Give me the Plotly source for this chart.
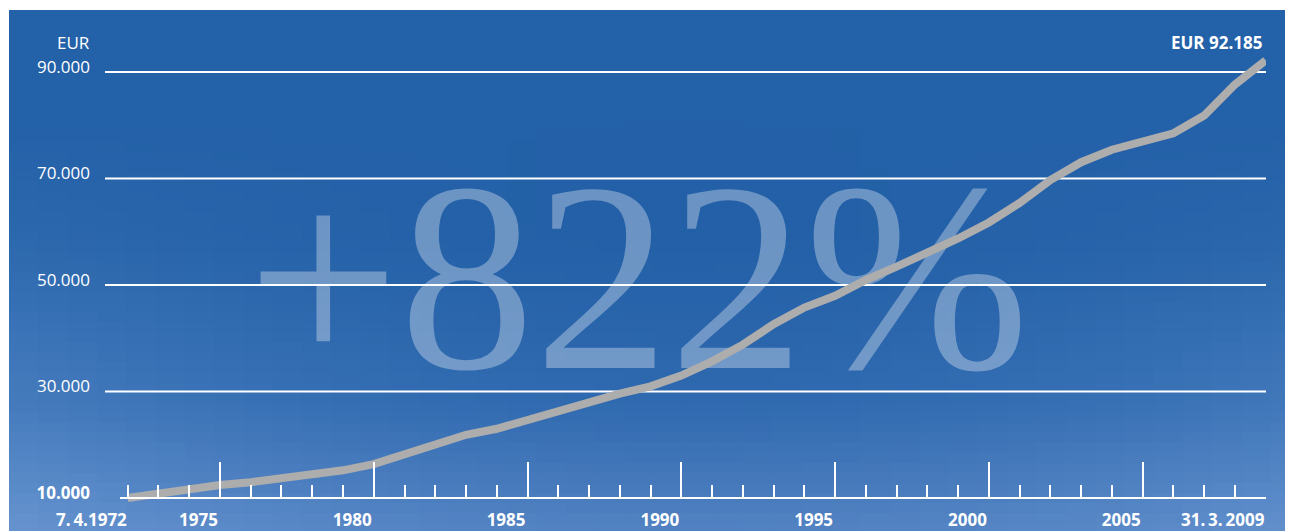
import plotly.graph_objects as go

# ---------------- data ----------------
years = list(range(1972, 2010))
values = [
    10000, 10850, 11650, 12440, 12970, 13720, 14410, 15200, 16350, 18100,
    20140, 21870, 23000, 24700, 26470, 28000, 29590, 30970, 33000, 35670,
    38790, 42640, 45770, 47970, 50940, 53440, 55950, 58730, 61740, 65400,
    69720, 73060, 75410, 76820, 78490, 81830, 87650, 92185,
]
x_tick_years = [1975, 1980, 1985, 1990, 1995, 2000, 2005]
x_tick_labels = ["1975", "1980", "1985", "1990", "1995", "2000", "2005"]
start_year, start_label = 1972, "7.\u20094.1972"
end_year, end_label = 2009, "31.\u20093.\u20092009"
y_grid_values = [10000, 30000, 50000, 70000, 90000]
y_tick_labels = ["<b>10.000</b>", "30.000", "50.000", "70.000", "90.000"]
unit_label = "EUR"
final_label = "<b>EUR 92.185</b>"
headline = "+822%"

# ---------------- geometry / style ----------------
OFF = 8                      # page margin around the figure
W, H = 1285, 523
L, R, T, B = 112, 27, 22, 21
PW, PH = W - L - R, H - T - B
X_RANGE = [1971.75, 2009.01]
Y_RANGE = [7746, 97887]
FONT = "Open Sans"


def px_to_paper_x(sx):
    return (sx - OFF - L) / PW


def px_to_paper_y(sy):
    return (H - B - (sy - OFF)) / PH


def lerp(a, b, t):
    return a + (b - a) * t


# background: dark blue at the top, lighter towards the bottom and the side edges
v_stops = [(10, (35, 97, 168)), (240, (35, 96, 167)), (400, (47, 105, 175)), (531, (82, 130, 194))]


def base_color(py):
    for (y0, c0), (y1, c1) in zip(v_stops[:-1], v_stops[1:]):
        if y0 <= py <= y1:
            t = (py - y0) / (y1 - y0)
            return [lerp(c0[i], c1[i], t) for i in range(3)]
    return list(v_stops[-1][1])


def bg_color(px, py):
    c = base_color(py)
    e = min(1.0, abs(px - 690) / 660) ** 2
    g = max(0.0, min(1.0, (py - 120) / 260))
    lift = (20, 17, 13)
    return "rgb(%d,%d,%d)" % tuple(round(min(255, c[i] + e * g * lift[i])) for i in range(3))


shapes = []
bx0, bx1, by0, by1 = 9, 1300, 10, 533
nrows, ncols = 52, 44
sx_step = (bx1 - bx0) / ncols
sy_step = (by1 - by0) / nrows
for r in range(nrows):
    y0 = by0 + r * sy_step
    y1 = y0 + sy_step + 1.5
    for c in range(ncols):
        x0 = bx0 + c * sx_step
        x1 = x0 + sx_step + 1.5
        shapes.append(dict(
            type="rect", xref="paper", yref="paper", layer="below",
            x0=px_to_paper_x(x0), x1=px_to_paper_x(x1),
            y0=px_to_paper_y(y1), y1=px_to_paper_y(y0),
            line=dict(width=0),
            fillcolor=bg_color(x0 + sx_step / 2, y0 + sy_step / 2),
        ))

# horizontal grid lines (extend a bit left of the plot area)
for v in y_grid_values[1:]:
    shapes.append(dict(
        type="line", xref="paper", yref="y", layer="below",
        x0=px_to_paper_x(105), x1=1.0, y0=v, y1=v,
        line=dict(color="white", width=2),
    ))

fig = go.Figure()

# large semi-transparent headline (behind the line)
fig.add_trace(go.Scatter(
    x=[1988.6], y=[47100], mode="text", text=[headline],
    textposition="middle center",
    textfont=dict(family="Liberation Serif", size=270, color="rgba(255,255,255,0.33)"),
    hoverinfo="skip", showlegend=False,
))

fig.add_trace(go.Scatter(
    x=years, y=values, mode="lines",
    line=dict(color="#adadad", width=8),
    hoverinfo="skip", showlegend=False,
))

annotations = [
    dict(text=unit_label, xref="paper", yref="paper",
         x=px_to_paper_x(92), y=px_to_paper_y(42), xanchor="right", yanchor="middle",
         showarrow=False, font=dict(family=FONT, size=17, color="white")),
    dict(text=final_label, xref="paper", yref="paper",
         x=px_to_paper_x(1264), y=px_to_paper_y(42), xanchor="right", yanchor="middle",
         showarrow=False, font=dict(family=FONT, size=17, color="white")),
    dict(text="<b>%s</b>" % start_label, xref="x", yref="paper",
         x=start_year, y=px_to_paper_y(520), xanchor="right", yanchor="middle",
         xshift=1, showarrow=False, font=dict(family=FONT, size=17, color="white")),
    dict(text="<b>%s</b>" % end_label, xref="x", yref="paper",
         x=end_year, y=px_to_paper_y(520), xanchor="right", yanchor="middle",
         xshift=1, showarrow=False, font=dict(family=FONT, size=17, color="white")),
]

fig.update_layout(
    width=W, height=H,
    margin=dict(l=L, r=R, t=T, b=B, pad=0, autoexpand=False),
    paper_bgcolor="white", plot_bgcolor="rgba(0,0,0,0)",
    showlegend=False,
    shapes=shapes,
    annotations=annotations,
    xaxis=dict(
        range=X_RANGE, anchor="free", position=px_to_paper_y(498),
        automargin=False,
        showgrid=False, zeroline=False,
        showline=True, linecolor="white", linewidth=2,
        tickmode="array", tickvals=x_tick_years, ticktext=["<b>%s</b>" % t for t in x_tick_labels],
        ticks="inside", ticklen=35, tickwidth=2, tickcolor="white",
        ticklabelposition="outside left", ticklabelstandoff=7,
        tickfont=dict(family=FONT, size=17, color="white"),
        minor=dict(ticks="inside", ticklen=12, tickwidth=2, tickcolor="white",
                   tick0=1972, dtick=1, showgrid=False),
    ),
    yaxis=dict(
        range=Y_RANGE, automargin=False,
        showgrid=False, zeroline=False, showline=False,
        tickmode="array", tickvals=y_grid_values, ticktext=y_tick_labels,
        ticks="", ticklabelposition="outside", ticklabelshift=-5, ticklabelstandoff=29,
        tickfont=dict(family=FONT, size=17, color="white"),
    ),
)

fig.write_html("out.html")
